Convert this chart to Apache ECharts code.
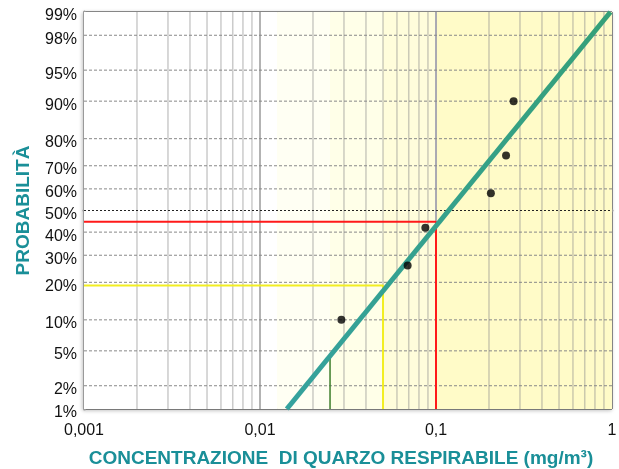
<!DOCTYPE html>
<html>
<head>
<meta charset="utf-8">
<script src="https://cdn.jsdelivr.net/npm/echarts@6/dist/echarts.min.js"></script>
<style>
  html, body { margin: 0; padding: 0; background: #fff; }
  #chart { width: 619px; height: 469px; }
</style>
</head>
<body>
<div id="chart"></div>
<script>
// probability ticks (%) on the probit axis
const yTicks = [1, 2, 5, 10, 20, 30, 40, 50, 60, 70, 80, 90, 95, 98, 99];
// minor gridlines of the log axis
const xMinor = [0.002, 0.003, 0.004, 0.005, 0.006, 0.007, 0.008, 0.009,
                0.02, 0.03, 0.04, 0.05, 0.06, 0.07, 0.08, 0.09,
                0.2, 0.3, 0.4, 0.5, 0.6, 0.7, 0.8, 0.9];
const xDecades = [0.01, 0.1];
// background bands (fractions of the limit value)
const bandEdges = [0.001, 0.0125, 0.025, 0.05, 0.1, 1];
const bandColors = ['#ffffff', '#fffff3', '#ffffe8', '#fffddb', '#fffbc8'];

// measured samples: concentration (mg/m3) and plotting position (%)
const sampleX = [0.029, 0.069, 0.087, 0.205, 0.25, 0.276];
const sampleP = [10, 26, 42, 58, 74, 90];

// fitted log-normal line (two ends, %)
const fitX = [0.0142, 0.98];
const fitP = [1, 99];

// reading lines
const redLine = [[0.001, 44.7], [0.1, 44.7], [0.1, 1]];
const yellowLine = [[0.001, 19], [0.05, 19], [0.05, 1]];
const greenLine = [[0.025, 4.5], [0.025, 1]];

// inverse normal cdf (Acklam)
function probit(p) {
  const a = [-3.969683028665376e+01, 2.209460984245205e+02, -2.759285104469687e+02, 1.383577518672690e+02, -3.066479806614716e+01, 2.506628277459239e+00];
  const b = [-5.447609879822406e+01, 1.615858368580409e+02, -1.556989798598866e+02, 6.680131188771972e+01, -1.328068155288572e+01];
  const c = [-7.784894002430293e-03, -3.223964580411365e-01, -2.400758277161838e+00, -2.549732539343734e+00, 4.374664141464968e+00, 2.938163982698783e+00];
  const d = [7.784695709041462e-03, 3.224671290700398e-01, 2.445134137142996e+00, 3.754408661907416e+00];
  const pl = 0.02425;
  let q, r;
  if (p < pl) {
    q = Math.sqrt(-2 * Math.log(p));
    return (((((c[0]*q+c[1])*q+c[2])*q+c[3])*q+c[4])*q+c[5]) / ((((d[0]*q+d[1])*q+d[2])*q+d[3])*q+1);
  }
  if (p <= 1 - pl) {
    q = p - 0.5; r = q * q;
    return (((((a[0]*r+a[1])*r+a[2])*r+a[3])*r+a[4])*r+a[5])*q / (((((b[0]*r+b[1])*r+b[2])*r+b[3])*r+b[4])*r+1);
  }
  q = Math.sqrt(-2 * Math.log(1 - p));
  return -(((((c[0]*q+c[1])*q+c[2])*q+c[3])*q+c[4])*q+c[5]) / ((((d[0]*q+d[1])*q+d[2])*q+d[3])*q+1);
}
const z = p => probit(p / 100);
const yTickZ = yTicks.map(z);
const yMin = z(1), yMax = z(99);
const toZ = pts => pts.map(pt => [pt[0], z(pt[1])]);

const chart = echarts.init(document.getElementById('chart'));
const teal = '#1a8f98';
const font = 'Liberation Sans, Arial';

// one plain line series per grid line
const gridSeries = [];
xMinor.forEach(v => gridSeries.push({
  type: 'line', data: [[v, yMin], [v, yMax]], symbol: 'none', silent: true, z: 1,
  lineStyle: { color: 'rgba(140,140,140,0.45)', width: 1.5 }
}));
gridSeries.push({
  type: 'line', data: [[xDecades[0], yMin], [xDecades[0], yMax]], symbol: 'none', silent: true, z: 1,
  lineStyle: { color: '#9a9a9a', width: 1.5 }
});
gridSeries.push({
  type: 'line', data: [[xDecades[1], yMin], [xDecades[1], yMax]], symbol: 'none', silent: true, z: 1,
  lineStyle: { color: '#8f8fa8', width: 1.5 }
});
yTicks.slice(1, -1).forEach(p => gridSeries.push({
  type: 'line', data: [[0.001, z(p)], [1, z(p)]], symbol: 'none', silent: true, z: 1,
  lineStyle: p === 50
    ? { color: '#222', width: 1, type: [2, 2] }
    : { color: '#888', width: 1, type: [3, 2] }
}));

const option = {
  animation: false,
  grid: {
    left: 84, right: 7, top: 12, bottom: 60,
    outerBoundsMode: 'none',
    containLabel: false,
    show: true,
    backgroundColor: '#fff',
    borderColor: '#222',
    borderWidth: 1,
    shadowColor: 'rgba(0,0,0,0.25)',
    shadowBlur: 4,
    shadowOffsetX: -1,
    shadowOffsetY: 1
  },
  xAxis: {
    type: 'log',
    logBase: 10,
    min: 0.001,
    max: 1,
    name: 'CONCENTRAZIONE  DI QUARZO RESPIRABILE (mg/m³)',
    nameLocation: 'middle',
    nameGap: 40,
    nameTextStyle: { color: teal, fontWeight: 'bold', fontSize: 19, fontFamily: font, padding: [0, 14, 0, 0] },
    axisLine: { show: true, lineStyle: { color: '#9a9a9a', width: 3 } },
    axisTick: { show: false },
    splitLine: { show: false },
    axisLabel: {
      color: '#111', fontSize: 16, fontFamily: font, margin: 14,
      formatter: v => String(Number(v.toPrecision(6))).replace('.', ',')
    }
  },
  yAxis: {
    type: 'value',
    min: yMin,
    max: yMax,
    name: 'PROBABILITÀ',
    nameLocation: 'middle',
    nameRotate: 90,
    nameGap: 51,
    nameTextStyle: { color: teal, fontWeight: 'bold', fontSize: 19, fontFamily: font },
    axisLine: { show: true, lineStyle: { color: '#9a9a9a', width: 3 } },
    axisTick: { show: false },
    splitLine: { show: false },
    axisLabel: {
      customValues: yTickZ,
      margin: 7,
      formatter: v => {
        const i = yTickZ.findIndex(t => Math.abs(t - v) < 1e-6);
        return i >= 0 ? '{p|' + yTicks[i] + '%}' : '';
      },
      rich: {
        p: { color: '#111', fontSize: 16, fontFamily: font, padding: [8, 0, 0, 0] }
      }
    }
  },
  series: [
    {
      // background bands
      type: 'line',
      data: [],
      silent: true,
      z: 0,
      markArea: {
        silent: true,
        data: bandColors.map((col, i) => [
          { xAxis: bandEdges[i], itemStyle: { color: col } },
          { xAxis: bandEdges[i + 1] }
        ])
      }
    },
    ...gridSeries,
    {
      type: 'line', data: toZ(redLine), symbol: 'none', silent: true, z: 3,
      lineStyle: { color: '#ff1a1a', width: 2 }
    },
    {
      type: 'line', data: toZ(yellowLine), symbol: 'none', silent: true, z: 3,
      lineStyle: { color: '#f2ee22', width: 2 }
    },
    {
      type: 'line', data: toZ(greenLine), symbol: 'none', silent: true, z: 3,
      lineStyle: { color: '#3d7d2a', width: 1.5 }
    },
    {
      type: 'line',
      data: fitX.map((x, i) => [x, z(fitP[i])]),
      symbol: 'none', silent: true, z: 4,
      lineStyle: {
        width: 5,
        color: new echarts.graphic.LinearGradient(0, 1, 1, 0, [
          { offset: 0, color: '#35a29e' },
          { offset: 1, color: '#35a078' }
        ])
      }
    },
    {
      type: 'scatter',
      data: sampleX.map((x, i) => [x, z(sampleP[i])]),
      symbolSize: 8,
      itemStyle: { color: '#000' },
      z: 5
    }
  ]
};
chart.setOption(option);
</script>
</body>
</html>
